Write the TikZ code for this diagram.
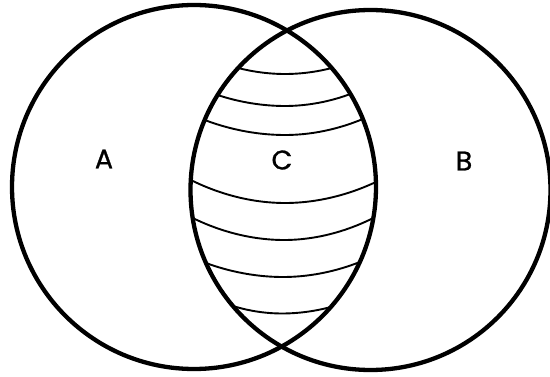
\documentclass[tikz,border=0pt]{standalone}
\usepackage{fontspec}
\setmainfont{Poppins}
\newfontfamily\labfont{Poppins}[FakeBold=0.9]
\begin{document}
\begin{tikzpicture}[x=1pt,y=-1pt,
  ring/.style={line width=4.3pt},
  stripe/.style={line width=1.9pt},
  lab/.style={font=\labfont\fontsize{27}{30}\selectfont, inner sep=0pt}]
\useasboundingbox (0,0) rectangle (550,377);
\fill[white] (0,0) rectangle (550,377);
% stripes in the lens
\draw[stripe] (238.2,68) parabola bend (285,74) (331.7,68);
\draw[stripe] (217.6,95) parabola bend (285,106) (350.4,94);
\draw[stripe] (204.7,120) parabola bend (285,135) (362.8,119);
\draw[stripe] (190.8,180) parabola bend (285,203) (375.9,182);
\draw[stripe] (192.7,218) parabola bend (284,240) (373.3,218);
\draw[stripe] (206.0,263) parabola bend (283,277) (359.8,262);
\draw[stripe] (232.9,306) parabola bend (282,313.5) (330.8,307);
% circles
\draw[ring] (194,187) circle (182);
\draw[ring] (370.5,190) circle (180);
% labels
\node[lab] (a) at (104,159) {A};
\node[lab] (c) at (282,160) {C};
\node[lab] (b) at (464,161) {B};
\end{tikzpicture}
\end{document}
